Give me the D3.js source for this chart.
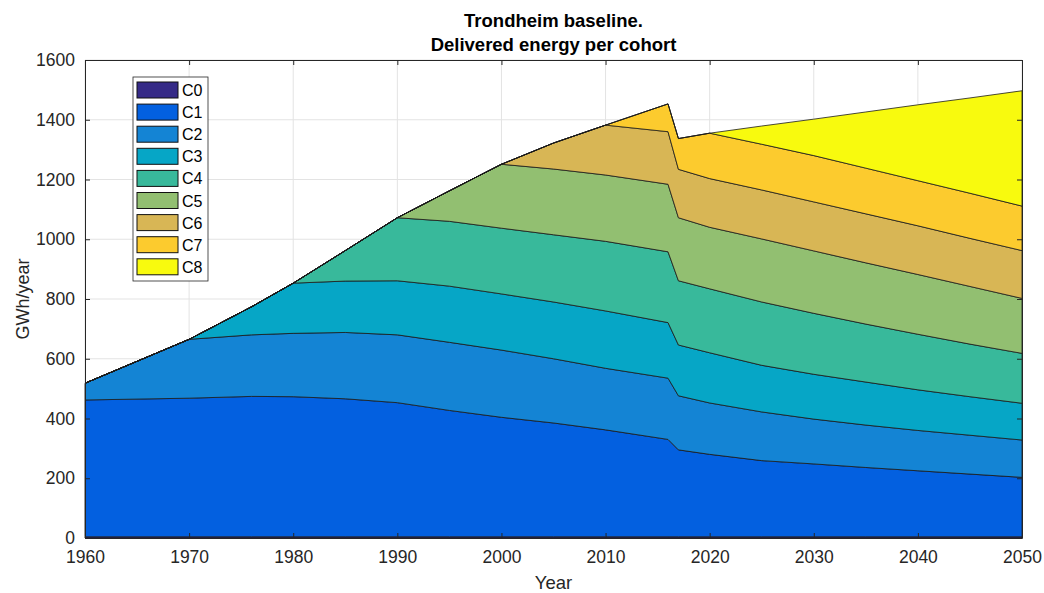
<!DOCTYPE html>
<html>
<head>
<meta charset="utf-8">
<script src="https://cdn.jsdelivr.net/npm/d3@7"></script>
<style>
  html, body { margin: 0; padding: 0; background: #fff; }
  svg { display: block; font-family: "Liberation Sans", Arial, Helvetica, sans-serif; }
</style>
</head>
<body>
<svg id="chart" width="1044" height="593"></svg>
<script>
// ---- Data (GWh/year per cohort) ----
const years = [1960,1970,1976,1980,1985,1990,1995,2000,2005,2010,2016,2017,2020,2025,2030,2035,2040,2045,2050];
const C0 = [4,4,4,4,4,4,4,4,4,4,4,4,4,4,4,4,4,4,4];
const C1 = [458,464,470,469,462,449,423,400,381,358,326,291,276,255,244,232,221,210,199];
const C2 = [56,197,206,212,222,227,228,225,215,206,205,181,172,163,150,142,135,130,125];
const C3 = [0,0,94,168,172,181,188,188,190,192,186,170,168,156,150,144,136,129,123];
const C4 = [0,0,0,0,102,211,217,220,225,233,237,215,214,212,204,194,186,176,167];
const C5 = [0,0,0,0,0,0,102,214,220,222,226,211,206,211,209,205,200,193,184];
const C6 = [0,0,0,0,0,0,0,0,87,167,176,162,163,164,164,164,163,161,160];
const C7 = [0,0,0,0,0,0,0,0,0,0,93,103,152,153,155,153,151,151,149];
const C8 = [0,0,0,0,0,0,0,0,0,0,0,0,0,61,122,188,254,319,386];
const cohorts = ["C0","C1","C2","C3","C4","C5","C6","C7","C8"];
const seriesValues = [C0,C1,C2,C3,C4,C5,C6,C7,C8];
const colors = ["#352a87","#0360e0","#1484d4","#06a6c6","#38b99b","#92bf71","#d8b655","#fccb2e","#f8fa0e"];
const xTicks = [1960,1970,1980,1990,2000,2010,2020,2030,2040,2050];
const yTicks = [0,200,400,600,800,1000,1200,1400,1600];
const titleLines = ["Trondheim baseline.","Delivered energy per cohort"];
const xLabel = "Year";
const yLabel = "GWh/year";

// ---- Build table ----
const table = years.map((yr, i) => {
  const row = { year: yr };
  cohorts.forEach((c, k) => row[c] = seriesValues[k][i]);
  return row;
});

const svg = d3.select("#chart");
const pL = 85, pR = 1022, pT = 60, pB = 538;
const x = d3.scaleLinear().domain([1960, 2050]).range([pL, pR]);
const y = d3.scaleLinear().domain([0, 1600]).range([pB, pT]);
const axisColor = "#262626";
const fontFam = '"Liberation Sans", Arial, Helvetica, sans-serif';

// grid
const grid = svg.append("g");
grid.selectAll("line.vx").data(xTicks).join("line").attr("class", "vx")
  .attr("x1", d => x(d)).attr("x2", d => x(d)).attr("y1", pT).attr("y2", pB)
  .attr("stroke", "#e3e3e3").attr("stroke-width", 1);
grid.selectAll("line.hy").data(yTicks).join("line").attr("class", "hy")
  .attr("y1", d => y(d)).attr("y2", d => y(d)).attr("x1", pL).attr("x2", pR)
  .attr("stroke", "#e3e3e3").attr("stroke-width", 1);

// stacked areas
const stack = d3.stack().keys(cohorts);
const layers = stack(table);
const area = d3.area()
  .x(d => x(d.data.year))
  .y0(d => y(d[0]))
  .y1(d => y(d[1]));
svg.append("g").selectAll("path").data(layers).join("path")
  .attr("d", area)
  .attr("fill", (d, i) => colors[i])
  .attr("stroke", "#1a1a1a")
  .attr("stroke-width", 0.8)
  .attr("stroke-linejoin", "round");

// axes box
const axG = svg.append("g");
const xAxisB = d3.axisBottom(x).tickValues(xTicks).tickFormat(d3.format("d")).tickSizeInner(-5).tickSizeOuter(0).tickPadding(13);
const xAxisT = d3.axisTop(x).tickValues(xTicks).tickFormat("").tickSizeInner(-5).tickSizeOuter(0);
const yAxisL = d3.axisLeft(y).tickValues(yTicks).tickFormat(d3.format("d")).tickSizeInner(-5).tickSizeOuter(0).tickPadding(10);
const yAxisR = d3.axisRight(y).tickValues(yTicks).tickFormat("").tickSizeInner(-5).tickSizeOuter(0);

function styleAxis(g) {
  g.selectAll("path.domain").attr("stroke", axisColor).attr("stroke-width", 1);
  g.selectAll(".tick line").attr("stroke", axisColor);
  g.selectAll("text").attr("fill", axisColor).style("font-size", "17.5px")
    .style("font-family", fontFam);
}
axG.append("g").attr("transform", `translate(0,${pB})`).call(xAxisB).call(styleAxis);
axG.append("g").attr("transform", `translate(0,${pT})`).call(xAxisT).call(styleAxis);
axG.append("g").attr("transform", `translate(${pL},0)`).call(yAxisL).call(styleAxis);
axG.append("g").attr("transform", `translate(${pR},0)`).call(yAxisR).call(styleAxis);

// axis labels
svg.append("text").attr("x", (pL + pR) / 2).attr("y", 589)
  .attr("text-anchor", "middle").attr("fill", axisColor).style("font-size", "18.5px").text(xLabel);
svg.append("text").attr("transform", `translate(29,${(pT + pB) / 2}) rotate(-90)`)
  .attr("text-anchor", "middle").attr("fill", axisColor).style("font-size", "18px").text(yLabel);

// title
titleLines.forEach((t, i) => {
  svg.append("text").attr("x", (pL + pR) / 2).attr("y", 27 + i * 24)
    .attr("text-anchor", "middle").attr("fill", "#000")
    .style("font-size", "18.5px").style("font-weight", "bold").text(t);
});

// legend
const lg = svg.append("g");
lg.append("rect").attr("x", 133).attr("y", 77).attr("width", 75).attr("height", 204)
  .attr("fill", "#fff").attr("stroke", axisColor).attr("stroke-width", 0.8);
cohorts.forEach((c, i) => {
  const cy = 90 + i * 22.1;
  lg.append("rect").attr("x", 137).attr("y", cy - 8).attr("width", 41).attr("height", 16)
    .attr("fill", colors[i]).attr("stroke", "#111").attr("stroke-width", 1);
  lg.append("text").attr("x", 182).attr("y", cy + 6).attr("fill", "#000")
    .style("font-size", "16px").text(c);
});
</script>
</body>
</html>
